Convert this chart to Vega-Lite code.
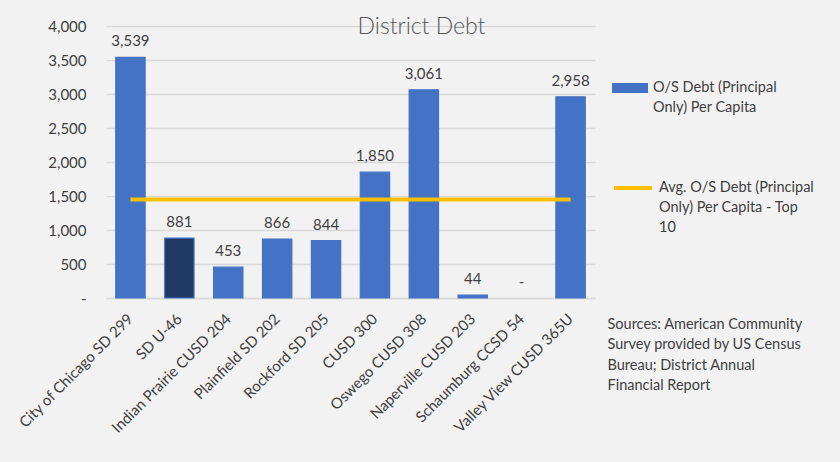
{
  "$schema": "https://vega.github.io/schema/vega-lite/v6.json",
  "autosize": {"type": "none"},
  "width": 489,
  "height": 272,
  "padding": {"left": 106, "top": 26, "right": 245, "bottom": 164},
  "background": "#f2f2f2",
  "title": {
    "text": "District Debt",
    "font": "Lato",
    "fontSize": 23,
    "fontWeight": 300,
    "color": "#595959",
    "anchor": "middle",
    "frame": "group",
    "dx": 71,
    "dy": 24
  },
  "data": {
    "values": [
      {"district": "City of Chicago SD 299", "value": 3539, "avg": 1449.6, "series": "O/S Debt (Principal Only) Per Capita"},
      {"district": "SD U-46", "value": 881, "avg": 1449.6, "series": "Highlighted district"},
      {"district": "Indian Prairie CUSD 204", "value": 453, "avg": 1449.6, "series": "O/S Debt (Principal Only) Per Capita"},
      {"district": "Plainfield SD 202", "value": 866, "avg": 1449.6, "series": "O/S Debt (Principal Only) Per Capita"},
      {"district": "Rockford SD 205", "value": 844, "avg": 1449.6, "series": "O/S Debt (Principal Only) Per Capita"},
      {"district": "CUSD 300", "value": 1850, "avg": 1449.6, "series": "O/S Debt (Principal Only) Per Capita"},
      {"district": "Oswego CUSD 308", "value": 3061, "avg": 1449.6, "series": "O/S Debt (Principal Only) Per Capita"},
      {"district": "Naperville CUSD 203", "value": 44, "avg": 1449.6, "series": "O/S Debt (Principal Only) Per Capita"},
      {"district": "Schaumburg CCSD 54", "value": 0, "avg": 1449.6, "series": "O/S Debt (Principal Only) Per Capita"},
      {"district": "Valley View CUSD 365U", "value": 2958, "avg": 1449.6, "series": "O/S Debt (Principal Only) Per Capita"}
    ]
  },
  "encoding": {
    "x": {
      "field": "district",
      "type": "nominal",
      "sort": null,
      "scale": {"paddingInner": 0.4, "paddingOuter": 0.2},
      "axis": {
        "title": ["Sources: American Community", "Survey provided by US Census", "Bureau; District Annual", "Financial Report"],
        "titleX": 501,
        "titleY": 19,
        "titleAlign": "left",
        "titleAnchor": "start",
        "titleBaseline": "top",
        "titleFont": "Lato",
        "titleFontSize": 14.5,
        "titleFontWeight": "normal",
        "titleColor": "#404040",
        "titleLineHeight": 20.5,
        "labelAngle": -45,
        "labelAlign": "right",
        "labelBaseline": "middle",
        "labelPadding": 18,
        "labelFont": "Lato",
        "labelFontSize": 15,
        "labelColor": "#404040",
        "labelLimit": 300,
        "ticks": false,
        "tickSize": 0,
        "domain": true,
        "domainColor": "#d9d9d9",
        "domainWidth": 1.5
      }
    }
  },
  "layer": [
    {
      "mark": {"type": "bar", "stroke": "#4472c4", "strokeWidth": 1.2},
      "encoding": {
        "y": {
          "field": "value",
          "type": "quantitative",
          "scale": {"domain": [0, 4000], "nice": false},
          "axis": {
            "title": null,
            "values": [0, 500, 1000, 1500, 2000, 2500, 3000, 3500, 4000],
            "labelExpr": "datum.value == 0 ? '-\u00a0\u00a0\u00a0\u00a0\u00a0\u00a0' : format(datum.value, ',')",
            "labelOverlap": false
          }
        },
        "fill": {
          "field": "series",
          "type": "nominal",
          "scale": {
            "domain": ["O/S Debt (Principal Only) Per Capita", "Highlighted district"],
            "range": ["#4472c4", "#203864"]
          },
          "legend": {
            "values": ["O/S Debt (Principal Only) Per Capita"],
            "title": null,
            "orient": "none",
            "legendX": 506,
            "legendY": 44,
            "padding": 0,
            "symbolType": "M-1,-0.28H1V0.28H-1Z",
            "symbolSize": 1296,
            "symbolStrokeWidth": 0,
            "labelExpr": "['O/S Debt (Principal', 'Only) Per Capita']",
            "labelFont": "Lato",
            "labelFontSize": 14.5,
            "labelColor": "#404040",
            "labelLimit": 300,
            "labelOffset": 5
          }
        },
        "strokeOpacity": {
          "condition": {"test": "datum.value == 0", "value": 0},
          "value": 1
        }
      }
    },
    {
      "mark": {"type": "line", "strokeWidth": 4, "strokeCap": "butt"},
      "encoding": {
        "y": {
          "field": "avg",
          "type": "quantitative",
          "axis": {
            "title": null,
            "values": [0, 500, 1000, 1500, 2000, 2500, 3000, 3500, 4000],
            "labelExpr": "datum.value == 0 ? '-\u00a0\u00a0\u00a0\u00a0\u00a0\u00a0' : format(datum.value, ',')",
            "labelOverlap": false
          }
        },
        "stroke": {
          "datum": "Avg. O/S Debt (Principal Only) Per Capita - Top 10",
          "scale": {"range": ["#ffc000"]},
          "legend": {
            "title": null,
            "orient": "none",
            "legendX": 506,
            "legendY": 141,
            "padding": 0,
            "symbolType": "stroke",
            "symbolSize": 1444,
            "symbolStrokeWidth": 4,
            "labelExpr": "['Avg. O/S Debt (Principal', 'Only) Per Capita - Top', '10']",
            "labelFont": "Lato",
            "labelFontSize": 14.5,
            "labelColor": "#404040",
            "labelLimit": 300,
            "labelOffset": 5
          }
        }
      }
    },
    {
      "transform": [
        {"calculate": "datum.value == 0 ? '-' : format(datum.value, ',')", "as": "label"}
      ],
      "mark": {"type": "text", "baseline": "bottom", "dy": -8, "font": "Lato", "fontSize": 15, "color": "#404040"},
      "encoding": {
        "y": {
          "field": "value",
          "type": "quantitative",
          "axis": {
            "title": null,
            "values": [0, 500, 1000, 1500, 2000, 2500, 3000, 3500, 4000],
            "labelExpr": "datum.value == 0 ? '-\u00a0\u00a0\u00a0\u00a0\u00a0\u00a0' : format(datum.value, ',')",
            "labelOverlap": false
          }
        },
        "text": {"field": "label"}
      }
    }
  ],
  "config": {
    "view": {"stroke": null},
    "style": {"guide-label": {"lineHeight": 20}},
    "axisY": {
      "labelFont": "Lato",
      "labelFontSize": 15,
      "labelColor": "#404040",
      "labelPadding": 20,
      "labelOverlap": false,
      "ticks": false,
      "tickSize": 0,
      "domain": false,
      "grid": true,
      "gridColor": "#d9d9d9",
      "gridWidth": 1.3
    }
  }
}
